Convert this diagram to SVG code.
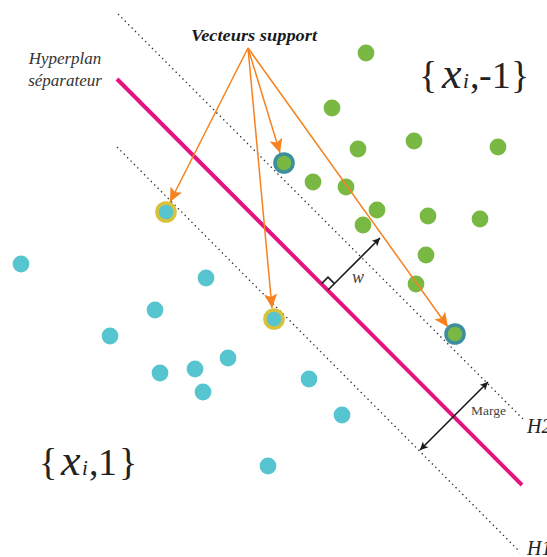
<svg xmlns="http://www.w3.org/2000/svg" width="547" height="557" viewBox="0 0 547 557">
<style>
.dot{stroke:#2f2f2f;stroke-width:1.3;stroke-dasharray:1.4 3.4;fill:none}
.hyp{stroke:#e5137f;stroke-width:4;fill:none}
.pos{fill:#57c5cf}
.neg{fill:#78b843}
.ringY{fill:#d9c23b}
.ringT{fill:#3c8f9c}
.arr{stroke:#f5821f;stroke-width:1.5;fill:none;marker-end:url(#oh)}
.blk{stroke:#1a1a1a;stroke-width:1.6;fill:none}
text{font-family:"Liberation Serif","Times New Roman","DejaVu Serif",serif}
</style>
<defs>
<marker id="oh" markerUnits="userSpaceOnUse" markerWidth="16" markerHeight="14" refX="14" refY="6.5" orient="auto">
<path d="M0,0 L14,6.5 L0,13 L3,6.5 z" fill="#f5821f"/>
</marker>
<marker id="bh" markerUnits="userSpaceOnUse" markerWidth="10" markerHeight="8" refX="8" refY="4" orient="auto">
<path d="M0,0 L8,4 L0,8 L2,4 z" fill="#1a1a1a"/>
</marker>
<marker id="bs" markerUnits="userSpaceOnUse" markerWidth="10" markerHeight="8" refX="0" refY="4" orient="auto">
<path d="M8,0 L0,4 L8,8 L6,4 z" fill="#1a1a1a"/>
</marker>
</defs>
<rect width="547" height="557" fill="#ffffff"/>

<g id="lines">
<line class="dot" x1="118" y1="14" x2="523" y2="419"/>
<line class="dot" x1="117" y1="147" x2="520" y2="552"/>
<line class="hyp" x1="117" y1="79" x2="522" y2="485"/>
</g>

<g id="class-neg">
<g id="g1"><circle class="neg" cx="366" cy="53" r="8.4"/></g>
<g id="g2"><circle class="neg" cx="332" cy="108" r="8.4"/></g>
<g id="g3"><circle class="neg" cx="414" cy="141" r="8.4"/></g>
<g id="g4"><circle class="neg" cx="498" cy="147" r="8.4"/></g>
<g id="g5"><circle class="neg" cx="358" cy="149" r="8.4"/></g>
<g id="g6"><circle class="neg" cx="313" cy="182" r="8.4"/></g>
<g id="g7"><circle class="neg" cx="346" cy="187" r="8.4"/></g>
<g id="g8"><circle class="neg" cx="377" cy="210" r="8.4"/></g>
<g id="g9"><circle class="neg" cx="363" cy="225" r="8.4"/></g>
<g id="g10"><circle class="neg" cx="428" cy="216" r="8.4"/></g>
<g id="g11"><circle class="neg" cx="480" cy="219" r="8.4"/></g>
<g id="g12"><circle class="neg" cx="426" cy="255" r="8.4"/></g>
<g id="g13"><circle class="neg" cx="416" cy="284" r="8.4"/></g>
<g id="sv-neg-1"><circle class="ringT" cx="284" cy="163" r="10.8"/><circle class="neg" cx="284" cy="163" r="7.3"/></g>
<g id="sv-neg-2"><circle class="ringT" cx="455" cy="334" r="10.8"/><circle class="neg" cx="455" cy="334" r="7.3"/></g>
</g>

<g id="class-pos">
<g id="c1"><circle class="pos" cx="21" cy="264" r="8.4"/></g>
<g id="c2"><circle class="pos" cx="206" cy="278" r="8.4"/></g>
<g id="c3"><circle class="pos" cx="155" cy="310" r="8.4"/></g>
<g id="c4"><circle class="pos" cx="110" cy="336" r="8.4"/></g>
<g id="c5"><circle class="pos" cx="228" cy="358" r="8.4"/></g>
<g id="c6"><circle class="pos" cx="160" cy="373" r="8.4"/></g>
<g id="c7"><circle class="pos" cx="195" cy="369" r="8.4"/></g>
<g id="c8"><circle class="pos" cx="203" cy="392" r="8.4"/></g>
<g id="c9"><circle class="pos" cx="309" cy="379" r="8.4"/></g>
<g id="c10"><circle class="pos" cx="342" cy="415" r="8.4"/></g>
<g id="c11"><circle class="pos" cx="268" cy="466" r="8.4"/></g>
<g id="sv-pos-1"><circle class="ringY" cx="166" cy="212" r="10.8"/><circle class="pos" cx="166" cy="212" r="7.3"/></g>
<g id="sv-pos-2"><circle class="ringY" cx="274" cy="319" r="10.8"/><circle class="pos" cx="274" cy="319" r="7.3"/></g>
</g>

<g id="connectors">
<line class="arr" x1="248" y1="48" x2="170" y2="202"/>
<line class="arr" x1="248" y1="48" x2="272" y2="308"/>
<line class="arr" x1="248" y1="48" x2="280" y2="153"/>
<line class="arr" x1="248" y1="48" x2="448" y2="327"/>
<line class="blk" x1="328" y1="290" x2="380" y2="238" marker-end="url(#bh)"/>
<path class="blk" stroke-width="1.2" d="M321.6,283.6 L328,277.2 L334.4,283.6"/>
<line class="blk" x1="420" y1="450" x2="488" y2="382" marker-start="url(#bs)" marker-end="url(#bh)"/>
</g>

<g id="labels">
<text x="254" y="41" text-anchor="middle" font-family="'Liberation Serif', serif" font-size="16" font-weight="bold" font-style="italic" fill="#1a1a1a" textLength="126" lengthAdjust="spacingAndGlyphs">Vecteurs support</text>
<text x="65" y="64" text-anchor="middle" font-family="'Liberation Serif', serif" font-size="17" font-style="italic" fill="#333">Hyperplan</text>
<text x="65" y="86" text-anchor="middle" font-family="'Liberation Serif', serif" font-size="17" font-style="italic" fill="#333">séparateur</text>
<text x="352" y="283" font-family="'Liberation Serif', serif" font-size="18" font-style="italic" fill="#444">w</text>
<text x="471" y="415" font-family="'Liberation Serif', serif" font-size="13.5" fill="#444">Marge</text>
<text x="527" y="433" font-family="'Liberation Serif', serif" font-size="20" font-style="italic" fill="#222">H2</text>
<text x="527" y="555" font-family="'Liberation Serif', serif" font-size="20" font-style="italic" fill="#222">H1</text>
<text y="88" font-family="'Liberation Serif', serif" font-size="38" fill="#222"><tspan x="419">{</tspan><tspan x="442" font-size="44" font-style="italic">x</tspan><tspan x="463" font-size="21" font-style="italic">i</tspan><tspan x="470">,</tspan><tspan x="479">-1</tspan><tspan x="511">}</tspan></text>
<text y="475" font-family="'Liberation Serif', serif" font-size="38" fill="#222"><tspan x="39">{</tspan><tspan x="61" font-size="44" font-style="italic">x</tspan><tspan x="82" font-size="21" font-style="italic">i</tspan><tspan x="89">,</tspan><tspan x="98">1</tspan><tspan x="119">}</tspan></text>
</g>
</svg>
